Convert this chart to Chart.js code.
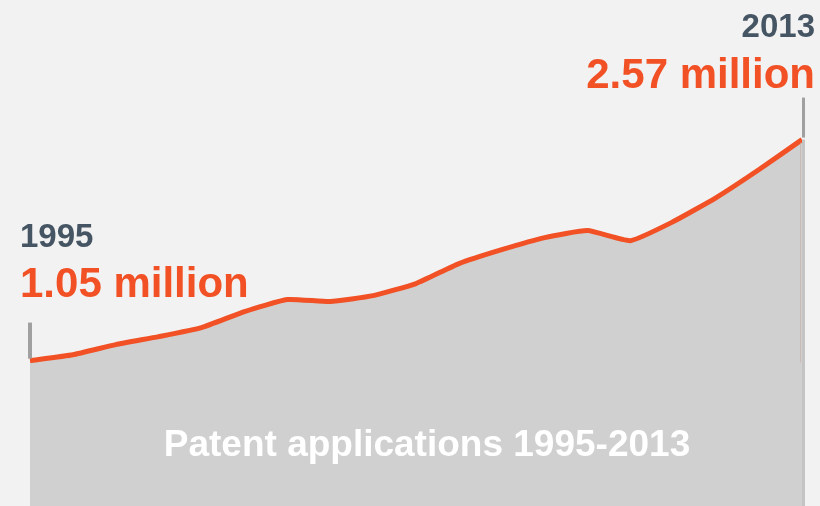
<!DOCTYPE html>
<html>
<head>
<meta charset="utf-8">
<script src="https://cdn.jsdelivr.net/npm/chart.js@4"></script>
<style>
  html, body { margin: 0; padding: 0; background: #f2f2f2; }
  #wrap { width: 820px; height: 506px; position: relative; }
</style>
</head>
<body>
<div id="wrap"><canvas id="c"></canvas></div>
<script>
const years = ['1995','1996','1997','1998','1999','2000','2001','2002','2003','2004','2005','2006','2007','2008','2009','2010','2011','2012','2013'];
const applicationsMillions = [1.05, 1.09, 1.16, 1.215, 1.277, 1.387, 1.47, 1.456, 1.497, 1.58, 1.717, 1.813, 1.896, 1.944, 1.875, 2.006, 2.171, 2.364, 2.57];
const startLabelValue = '1.05 million';
const endLabelValue = '2.57 million';
const chartTitle = 'Patent applications 1995-2013';

const ORANGE = '#f15125';
const SLATE = '#465563';

const overlay = {
  id: 'overlay',
  afterDatasetsDraw(chart) {
    const ctx = chart.ctx;
    const meta = chart.getDatasetMeta(0);
    const first = meta.data[0];
    const last = meta.data[meta.data.length - 1];
    const area = chart.chartArea;
    ctx.save();
    // start marker
    ctx.fillStyle = '#a0a0a0';
    ctx.fillRect(first.x - 2, first.y - 38, 4, 36);
    // end marker
    ctx.fillRect(last.x + 0, last.y - 42, 3, 40);
    ctx.fillStyle = 'rgba(200,170,165,0.6)';
    ctx.fillRect(last.x - 2, last.y + 3, 1, 220);
    ctx.fillStyle = '#c4c4c4';
    ctx.fillRect(last.x + 0, last.y, 3, area.bottom - last.y);
    // texts
    ctx.textBaseline = 'alphabetic';
    ctx.font = 'bold 33px "Liberation Sans", Arial, sans-serif';
    ctx.fillStyle = SLATE;
    ctx.textAlign = 'left';
    ctx.fillText(years[0], 20, 247);
    ctx.font = 'bold 42px "Liberation Sans", Arial, sans-serif';
    ctx.fillStyle = ORANGE;
    ctx.fillText(startLabelValue, 20, 297);
    ctx.textAlign = 'right';
    ctx.font = 'bold 33px "Liberation Sans", Arial, sans-serif';
    ctx.fillStyle = SLATE;
    ctx.fillText(years[years.length - 1], 815, 37);
    ctx.font = 'bold 42px "Liberation Sans", Arial, sans-serif';
    ctx.fillStyle = ORANGE;
    ctx.fillText(endLabelValue, 815, 88);
    // title
    ctx.textAlign = 'center';
    ctx.font = 'bold 37px "Liberation Sans", Arial, sans-serif';
    ctx.fillStyle = '#ffffff';
    ctx.fillText(chartTitle, 427, 456);
    ctx.restore();
  }
};

new Chart(document.getElementById('c'), {
  type: 'line',
  data: {
    labels: years,
    datasets: [{
      data: applicationsMillions,
      borderColor: ORANGE,
      borderWidth: 5,
      backgroundColor: '#d0d0d0',
      fill: 'start',
      pointRadius: 0,
      tension: 0.15,
      borderJoinStyle: 'round',
      borderCapStyle: 'butt'
    }]
  },
  options: {
    responsive: true,
    maintainAspectRatio: false,
    animation: false,
    layout: { padding: { left: 30, right: 18, top: 0, bottom: 0 } },
    plugins: { legend: { display: false }, tooltip: { enabled: false } },
    scales: {
      x: { display: false, offset: false },
      y: { display: false, min: 0.05, max: 3.53 }
    }
  },
  plugins: [overlay]
});
</script>
</body>
</html>
